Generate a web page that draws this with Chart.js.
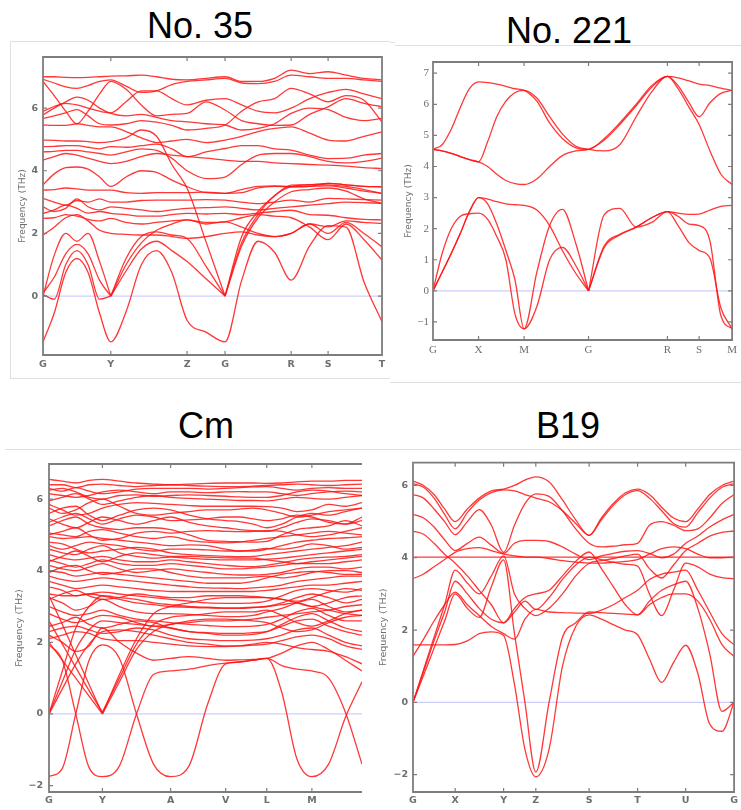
<!DOCTYPE html>
<html>
<head>
<meta charset="utf-8">
<script src="https://cdn.jsdelivr.net/npm/chart.js@4.4.1/dist/chart.umd.min.js"></script>
<style>
  body { margin: 0; width: 741px; height: 810px; background: #fff; position: relative; overflow: hidden; font-family: 'Liberation Sans', Arial, sans-serif; }
  .title { position: absolute; font-size: 36px; line-height: 1; color: #000; transform: translateX(-50%); white-space: nowrap; }
  .rule { position: absolute; background: #e0e0e0; }
  canvas { position: absolute; }
</style>
</head>
<body>
<div class="title" style="left:200px; top:8px;">No. 35</div>
<div class="title" style="left:569px; top:13px;">No. 221</div>
<div class="title" style="left:206px; top:408px;">Cm</div>
<div class="title" style="left:568px; top:408px;">B19</div>

<canvas id="no35" width="380" height="333" style="left:10px; top:45px;"></canvas>
<canvas id="no221" width="351" height="334" style="left:390px; top:48px;"></canvas>
<canvas id="cm" width="370" height="358" style="left:0px; top:452px;"></canvas>
<canvas id="b19" width="371" height="358" style="left:370px; top:452px;"></canvas>

<div class="rule" style="left:10px; top:41px; width:380px; height:1px;"></div>
<div class="rule" style="left:10px; top:41px; width:1px; height:337px;"></div>
<div class="rule" style="left:10px; top:378px; width:380px; height:1px;"></div>
<div class="rule" style="left:390px; top:42px; width:5px; height:1px;"></div>
<div class="rule" style="left:395px; top:45px; width:346px; height:1px;"></div>
<div class="rule" style="left:390px; top:382px; width:351px; height:1px;"></div>
<div class="rule" style="left:5px; top:449px; width:365px; height:1px;"></div>
<div class="rule" style="left:370px; top:449px; width:371px; height:1px;"></div>

<script>
(function(){
// ---- No. 35 ----
const no35Path = [0, 3.3, 6.7, 10, 13.3, 16.7, 20, 24.5, 29, 33.5, 38, 42.5, 48.1, 53.7, 58.6, 63.45, 68.3, 73.2, 78.65, 84.1, 89.4, 94.7, 100];
const no35Ticks = [0, 20, 42.5, 53.7, 73.2, 84.1, 100];
const no35Labels = ['G', 'Y', 'Z', 'G', 'R', 'S', 'T'];
const no35YTicks = [0, 2, 4, 6];
const no35Bands = [
  [-1.46, -0.55, 0.75, 1.2, 0.75, -0.55, -1.46, -0.5, 1.0, 1.45, 0.75, -0.77, -1.15, -1.46, 0.5, 1.75, 1.4, 0.51, 1.6, 2.25, 2.2, 0.45, -0.82],
  [0.05, -0.1, 1.0, 1.45, 1.0, -0.1, 0.0, 0.8, 1.5, 1.75, 1.45, 1.1, 0.55, 0.0, 1.9, 2.7, 3.2, 3.54, 3.56, 3.55, 3.5, 3.4, 3.28],
  [0.1, 0.6, 1.35, 1.65, 1.35, 0.5, 0.0, 1.2, 1.9, 2.05, 1.95, 1.84, 0.95, 0.0, 1.6, 2.5, 3.0, 3.33, 3.4, 3.45, 3.35, 3.1, 2.96],
  [0.0, 1.3, 2.0, 1.75, 2.0, 1.1, 0.0, 1.0, 1.7, 2.1, 2.3, 2.43, 2.35, 2.37, 2.5, 2.6, 2.55, 2.5, 2.2, 1.8, 2.3, 1.8, 1.15],
  [1.95, 2.2, 2.5, 2.6, 2.4, 2.1, 2.0, 1.97, 1.95, 1.95, 1.9, 1.84, 1.9, 2.0, 2.05, 1.95, 1.9, 2.0, 2.3, 2.0, 2.35, 2.0, 1.57],
  [4.98, 4.97, 4.95, 4.95, 4.93, 4.9, 4.93, 5.05, 5.3, 5.1, 4.2, 3.44, 1.73, 0.0, 1.7, 2.6, 3.2, 3.49, 3.55, 3.6, 3.55, 3.5, 3.49],
  [3.55, 3.9, 4.1, 4.12, 4.05, 3.8, 3.5, 3.8, 4.0, 3.95, 3.7, 3.49, 3.3, 3.28, 3.4, 3.5, 3.52, 3.49, 3.5, 3.6, 3.55, 3.5, 3.49],
  [3.38, 3.4, 3.45, 3.42, 3.38, 3.38, 3.38, 3.3, 3.28, 3.3, 3.3, 3.3, 3.32, 3.28, 3.3, 3.45, 3.5, 3.49, 3.5, 3.52, 3.45, 3.35, 3.28],
  [3.12, 3.0, 2.9, 3.05, 3.0, 3.1, 3.0, 3.0, 3.05, 3.06, 3.06, 3.06, 3.08, 3.06, 3.0, 2.95, 3.0, 3.06, 3.0, 3.12, 3.1, 3.08, 3.06],
  [2.85, 2.7, 2.8, 3.1, 2.85, 2.75, 2.85, 2.8, 2.75, 2.7, 2.75, 2.8, 2.82, 2.85, 2.8, 2.75, 2.8, 2.85, 2.9, 2.95, 3.0, 2.98, 2.96],
  [2.64, 2.75, 2.9, 2.8, 2.65, 2.7, 2.64, 2.6, 2.55, 2.55, 2.6, 2.64, 2.62, 2.64, 2.6, 2.65, 2.7, 2.74, 2.6, 2.58, 2.5, 2.45, 2.43],
  [2.48, 2.5, 2.6, 2.55, 2.45, 2.4, 2.48, 2.35, 2.3, 2.35, 2.4, 2.43, 2.3, 2.37, 2.2, 2.0, 1.9, 2.0, 2.3, 2.21, 2.4, 2.35, 2.32],
  [4.77, 4.78, 4.8, 4.8, 4.75, 4.7, 4.77, 4.75, 4.8, 4.85, 4.7, 4.45, 4.6, 4.71, 4.8, 4.8, 4.7, 4.66, 4.5, 4.39, 4.4, 4.5, 4.55],
  [4.34, 4.45, 4.55, 4.5, 4.4, 4.3, 4.23, 4.3, 4.45, 4.55, 4.5, 4.45, 4.4, 4.34, 4.3, 4.3, 4.25, 4.23, 4.2, 4.18, 4.15, 4.1, 4.07],
  [4.6, 4.62, 4.65, 4.65, 4.6, 4.55, 4.5, 4.6, 4.7, 4.65, 4.4, 4.0, 3.75, 3.8, 4.2, 4.5, 4.55, 4.55, 4.45, 4.3, 4.25, 4.3, 4.4],
  [7.0, 7.0, 6.98, 6.97, 6.98, 7.0, 7.02, 7.03, 7.05, 7.0, 6.92, 6.9, 6.95, 7.0, 6.85, 6.85, 6.95, 7.21, 7.1, 7.16, 7.05, 6.95, 6.9],
  [6.92, 6.8, 6.68, 6.63, 6.72, 6.85, 6.9, 6.7, 6.5, 6.55, 6.75, 6.85, 6.9, 6.95, 6.8, 6.78, 6.85, 7.05, 7.0, 6.95, 6.95, 6.9, 6.85],
  [6.85, 6.4, 5.9, 5.5, 5.9, 6.45, 6.85, 6.6, 6.1, 5.75, 5.8, 5.83, 6.2, 5.94, 5.6, 5.5, 5.45, 5.46, 5.8, 6.04, 6.3, 6.15, 6.04],
  [5.9, 6.05, 6.15, 6.1, 6.0, 5.9, 5.85, 6.2, 6.55, 6.55, 6.3, 6.1, 6.25, 6.3, 6.1, 5.9, 5.85, 6.0, 6.3, 6.5, 6.6, 6.45, 6.3],
  [5.78, 6.0, 6.2, 6.35, 6.25, 6.0, 5.83, 5.75, 5.8, 5.7, 5.6, 5.56, 5.5, 5.46, 5.3, 5.35, 5.5, 5.83, 6.0, 5.95, 5.7, 5.6, 5.67],
  [5.67, 5.75, 5.85, 5.95, 5.75, 5.5, 5.46, 5.5, 5.6, 5.55, 5.45, 5.3, 5.35, 5.46, 5.9, 6.2, 6.3, 6.63, 6.45, 6.2, 6.4, 6.25, 5.55],
  [5.46, 5.45, 5.45, 5.5, 5.45, 5.4, 5.4, 5.25, 5.05, 4.9, 4.95, 5.0, 4.9, 4.98, 5.1, 5.25, 5.35, 5.4, 5.2, 4.98, 4.95, 5.1, 5.24]
];

// ---- No. 221 ----
const no221Path = [0, 0.1, 0.2, 0.3, 0.4, 0.5, 0.6, 0.7, 0.8, 0.9, 1.0, 1.14, 1.28, 1.42, 1.57, 1.707, 1.88, 2.05, 2.23, 2.40, 2.573, 2.69, 2.81, 2.921, 3.04, 3.16, 3.283];
const no221Ticks = [0, 0.5, 1.0, 1.707, 2.573, 2.921, 3.283];
const no221Labels = ['G', 'X', 'M', 'G', 'R', 'S', 'M'];
const no221YTicks = [-1, 0, 1, 2, 3, 4, 5, 6, 7];
const no221Bands = [
  [0, 1.2, 2.0, 2.4, 2.48, 2.5, 2.3, 1.75, 1.0, -0.75, -1.22, -0.5, 1.0, 1.4, 0.8, 0, 1.4, 1.8, 2.05, 2.35, 2.55, 2.1, 1.55, 1.3, 1.05, -0.55, -1.22],
  [0, 0.6, 1.2, 1.85, 2.55, 3.0, 2.8, 2.15, 1.3, 0.35, -1.22, 0.6, 2.1, 2.62, 1.5, 0, 2.45, 2.65, 2.05, 2.2, 2.55, 2.4, 2.15, 2.1, 1.6, -0.8, -1.22],
  [0, 0.6, 1.2, 1.85, 2.55, 3.0, 2.95, 2.87, 2.8, 2.77, 2.75, 2.6, 2.1, 1.3, 0.55, 0, 1.45, 1.82, 2.05, 2.35, 2.55, 2.5, 2.46, 2.47, 2.6, 2.72, 2.75],
  [4.55, 4.7, 5.2, 5.9, 6.5, 6.72, 6.7, 6.65, 6.58, 6.5, 6.45, 6.1, 5.4, 4.9, 4.6, 4.55, 4.9, 5.4, 6.0, 6.6, 6.9, 6.85, 6.75, 6.65, 6.6, 6.52, 6.45],
  [4.55, 4.5, 4.42, 4.32, 4.22, 4.15, 4.8, 5.6, 6.1, 6.38, 6.45, 6.2, 5.6, 5.05, 4.65, 4.55, 4.5, 4.7, 5.6, 6.4, 6.9, 6.6, 6.05, 5.6, 6.05, 6.35, 6.45],
  [4.55, 4.5, 4.42, 4.32, 4.22, 4.15, 4.0, 3.75, 3.55, 3.45, 3.42, 3.6, 4.0, 4.35, 4.5, 4.55, 4.85, 5.35, 5.95, 6.55, 6.9, 6.5, 5.9, 5.35, 4.5, 3.75, 3.42]
];

// ---- Cm ----
const cmPath = [0, 0.133, 0.267, 0.4, 0.533, 0.703, 0.873, 1.043, 1.213, 1.397, 1.58, 1.763, 1.9, 2.037, 2.173, 2.323, 2.473, 2.623, 2.79, 2.957, 3.123];
const cmTicks = [0, 0.533, 1.213, 1.763, 2.173, 2.623];
const cmLabels = ['G', 'Y', 'A', 'V', 'L', 'M'];
const cmYTicks = [-2, 0, 2, 4, 6];
const cmBands = [
  [-1.75, -1.52, 0, 1.5, 1.93, 1.55, 0, -1.4, -1.75, -1.45, 0.25, 1.4, 1.45, 1.5, 1.55, 0.6, -1.25, -1.75, -1.4, -0.1, 0.9],
  [1.93, 1.5, 0, -1.5, -1.75, -1.45, 0, 1.1, 1.2, 1.25, 1.35, 1.42, 1.45, 1.5, 1.55, 1.35, 1.25, 1.2, 1.0, 0.05, -1.4],
  [0, 1.2, 2.4, 3.0, 3.3, 3.25, 3.2, 3.1, 3.05, 3.0, 2.98, 2.96, 2.96, 2.98, 3.0, 3.05, 3.1, 3.0, 2.9, 2.8, 2.75],
  [0, 0.9, 1.8, 2.35, 2.6, 2.55, 2.5, 2.45, 2.4, 2.3, 2.25, 2.2, 2.2, 2.22, 2.3, 2.5, 2.7, 2.8, 2.6, 2.4, 2.3],
  [0, 0.7, 1.4, 1.95, 2.3, 2.35, 2.3, 2.2, 2.1, 2.0, 1.95, 1.9, 1.9, 1.92, 1.95, 2.05, 2.15, 2.2, 2.1, 1.9, 1.8],
  [2.0, 1.5, 1.0, 0.5, 0.0, 0.9, 1.8, 2.3, 2.5, 2.55, 2.6, 2.6, 2.62, 2.65, 2.7, 2.75, 2.8, 2.85, 2.9, 3.0, 3.05],
  [3.3, 2.5, 1.65, 0.82, 0.0, 1.1, 2.1, 2.8, 3.0, 3.1, 3.2, 3.25, 3.25, 3.25, 3.25, 3.2, 3.1, 3.0, 3.1, 3.25, 3.3],
  [2.6, 1.95, 1.3, 0.65, 0.05, 1.0, 1.95, 2.5, 2.7, 2.75, 2.8, 2.85, 2.85, 2.85, 2.9, 2.75, 2.55, 2.45, 2.6, 2.8, 2.9],
  [6.55, 6.5, 6.45, 6.52, 6.55, 6.5, 6.45, 6.42, 6.4, 6.42, 6.44, 6.45, 6.45, 6.45, 6.44, 6.45, 6.48, 6.5, 6.5, 6.52, 6.52],
  [6.4, 6.4, 6.32, 6.4, 6.42, 6.38, 6.35, 6.38, 6.4, 6.38, 6.36, 6.35, 6.35, 6.36, 6.38, 6.4, 6.42, 6.4, 6.38, 6.4, 6.42],
  [6.3, 6.22, 6.32, 6.22, 6.15, 6.2, 6.28, 6.3, 6.3, 6.3, 6.28, 6.3, 6.32, 6.34, 6.35, 6.3, 6.25, 6.3, 6.32, 6.3, 6.3],
  [6.25, 6.3, 6.2, 6.05, 6.0, 6.1, 6.12, 6.08, 6.1, 6.12, 6.1, 6.08, 6.06, 6.05, 6.05, 6.1, 6.2, 6.25, 6.22, 6.15, 6.1],
  [6.15, 6.1, 6.05, 6.1, 6.2, 6.25, 6.2, 6.15, 6.2, 6.2, 6.18, 6.2, 6.21, 6.2, 6.2, 6.15, 6.1, 6.15, 6.2, 6.22, 6.2],
  [5.95, 6.05, 6.15, 6.0, 5.85, 5.95, 6.05, 6.1, 6.05, 6.02, 6.0, 5.98, 5.96, 5.96, 5.95, 6.0, 6.05, 6.02, 6.0, 6.05, 6.1],
  [5.75, 5.6, 5.7, 5.9, 6.0, 5.8, 5.6, 5.55, 5.6, 5.65, 5.7, 5.7, 5.72, 5.75, 5.7, 5.6, 5.5, 5.55, 5.65, 5.7, 5.75],
  [5.85, 5.7, 5.55, 5.6, 5.75, 5.85, 5.9, 5.88, 5.85, 5.82, 5.8, 5.8, 5.8, 5.8, 5.79, 5.75, 5.65, 5.7, 5.85, 5.8, 5.9],
  [5.6, 5.75, 5.8, 5.55, 5.4, 5.55, 5.7, 5.75, 5.7, 5.55, 5.45, 5.4, 5.37, 5.3, 5.2, 5.3, 5.5, 5.6, 5.55, 5.65, 5.75],
  [5.35, 5.5, 5.6, 5.45, 5.3, 5.45, 5.55, 5.5, 5.4, 5.42, 5.45, 5.5, 5.5, 5.45, 5.4, 5.45, 5.55, 5.5, 5.35, 5.3, 5.4],
  [5.45, 5.3, 5.2, 5.35, 5.5, 5.4, 5.3, 5.4, 5.5, 5.35, 5.25, 5.2, 5.15, 5.12, 5.1, 5.2, 5.35, 5.45, 5.4, 5.3, 5.5],
  [5.25, 5.4, 5.5, 5.3, 5.2, 5.15, 5.2, 5.2, 5.15, 5.0, 4.85, 4.82, 4.81, 4.8, 4.82, 5.0, 5.15, 5.2, 5.25, 5.4, 5.25],
  [5.0, 5.1, 5.2, 5.0, 4.85, 4.9, 5.05, 5.1, 5.05, 5.1, 5.12, 5.1, 5.09, 5.1, 5.12, 5.1, 5.0, 4.95, 5.0, 5.1, 5.2],
  [5.05, 5.0, 4.95, 5.1, 5.15, 5.05, 4.95, 4.9, 4.95, 4.85, 4.8, 4.78, 4.8, 4.85, 4.9, 4.95, 5.0, 5.05, 5.1, 5.05, 5.0],
  [4.95, 4.9, 4.92, 4.95, 4.9, 4.85, 4.8, 4.75, 4.7, 4.72, 4.7, 4.6, 4.55, 4.55, 4.6, 4.7, 4.8, 4.85, 4.9, 4.92, 4.95],
  [4.8, 4.75, 4.6, 4.5, 4.55, 4.6, 4.65, 4.6, 4.5, 4.45, 4.42, 4.4, 4.39, 4.4, 4.45, 4.5, 4.55, 4.6, 4.65, 4.7, 4.8],
  [4.7, 4.6, 4.7, 4.8, 4.75, 4.7, 4.6, 4.55, 4.6, 4.6, 4.58, 4.55, 4.55, 4.58, 4.62, 4.6, 4.65, 4.75, 4.7, 4.6, 4.65],
  [4.25, 4.4, 4.55, 4.4, 4.25, 4.4, 4.5, 4.45, 4.4, 4.4, 4.38, 4.36, 4.35, 4.35, 4.3, 4.25, 4.2, 4.25, 4.3, 4.35, 4.4],
  [4.6, 4.5, 4.45, 4.6, 4.7, 4.5, 4.4, 4.35, 4.38, 4.35, 4.32, 4.3, 4.3, 4.3, 4.32, 4.35, 4.4, 4.45, 4.5, 4.55, 4.6],
  [4.45, 4.35, 4.3, 4.35, 4.4, 4.3, 4.25, 4.25, 4.3, 4.25, 4.2, 4.15, 4.12, 4.11, 4.15, 4.22, 4.3, 4.35, 4.38, 4.4, 4.45],
  [4.3, 4.2, 4.1, 4.2, 4.3, 4.2, 4.15, 4.15, 4.2, 4.15, 4.1, 4.05, 4.05, 4.08, 4.1, 4.15, 4.2, 4.2, 4.2, 4.25, 4.3],
  [4.15, 4.05, 4.0, 4.1, 4.2, 4.05, 3.95, 4.0, 4.05, 4.0, 3.95, 3.9, 3.88, 3.88, 3.9, 3.95, 4.05, 4.1, 4.1, 4.05, 4.1],
  [3.95, 4.1, 4.15, 4.0, 3.9, 3.95, 4.05, 4.05, 3.95, 3.85, 3.8, 3.8, 3.8, 3.82, 3.85, 3.8, 3.85, 3.95, 4.0, 4.0, 3.95],
  [4.0, 3.95, 3.85, 3.9, 3.95, 3.9, 3.85, 3.8, 3.75, 3.7, 3.65, 3.65, 3.65, 3.7, 3.8, 3.9, 3.95, 3.98, 3.95, 3.9, 3.9],
  [3.85, 3.75, 3.7, 3.75, 3.8, 3.75, 3.7, 3.65, 3.6, 3.55, 3.52, 3.51, 3.5, 3.52, 3.55, 3.6, 3.7, 3.75, 3.8, 3.85, 3.85],
  [3.7, 3.6, 3.5, 3.55, 3.6, 3.55, 3.5, 3.45, 3.42, 3.42, 3.42, 3.42, 3.42, 3.42, 3.45, 3.5, 3.55, 3.6, 3.6, 3.65, 3.7],
  [3.55, 3.45, 3.3, 3.35, 3.4, 3.35, 3.3, 3.25, 3.2, 3.15, 3.1, 3.09, 3.09, 3.1, 3.15, 3.3, 3.45, 3.5, 3.45, 3.4, 3.5],
  [3.2, 3.35, 3.45, 3.3, 3.2, 3.25, 3.35, 3.3, 3.25, 3.25, 3.3, 3.3, 3.3, 3.28, 3.25, 3.2, 3.15, 3.25, 3.4, 3.5, 3.45],
  [3.35, 3.3, 3.3, 3.35, 3.3, 3.2, 3.1, 3.05, 3.0, 2.98, 2.96, 2.95, 2.95, 2.97, 3.0, 3.1, 3.25, 3.35, 3.25, 3.1, 3.2],
  [3.25, 3.1, 2.9, 3.0, 3.2, 3.0, 2.85, 2.8, 2.8, 2.78, 2.75, 2.72, 2.72, 2.75, 2.85, 2.95, 3.1, 3.2, 3.0, 2.85, 2.9],
  [3.0, 2.85, 2.75, 2.8, 2.9, 2.75, 2.65, 2.6, 2.55, 2.5, 2.47, 2.44, 2.44, 2.45, 2.5, 2.65, 2.85, 2.95, 2.75, 2.6, 2.6],
  [2.8, 2.65, 2.55, 2.65, 2.75, 2.7, 2.55, 2.45, 2.5, 2.6, 2.65, 2.65, 2.63, 2.6, 2.55, 2.4, 2.3, 2.35, 2.55, 2.7, 2.75],
  [2.45, 2.55, 2.7, 2.5, 2.4, 2.5, 2.6, 2.55, 2.4, 2.3, 2.27, 2.25, 2.25, 2.27, 2.3, 2.45, 2.6, 2.65, 2.45, 2.3, 2.2],
  [2.3, 2.4, 2.45, 2.35, 2.25, 2.3, 2.4, 2.35, 2.2, 2.1, 2.07, 2.05, 2.05, 2.06, 2.1, 2.2, 2.35, 2.4, 2.2, 2.0, 1.9],
  [2.1, 2.2, 2.3, 2.25, 2.1, 2.05, 2.05, 2.0, 1.95, 1.9, 1.88, 1.88, 1.9, 1.95, 2.0, 1.95, 1.85, 1.8, 1.75, 1.6, 1.4],
  [2.2, 2.0, 1.75, 1.9, 2.4, 2.0, 1.7, 1.5, 1.55, 1.6, 1.55, 1.5, 1.51, 1.52, 1.55, 1.7, 1.9, 2.0, 1.8, 1.5, 1.2]
];

// ---- B19 ----
const b19Path = [0, 0.107, 0.213, 0.32, 0.427, 0.55, 0.67, 0.793, 0.917, 1.027, 1.133, 1.243, 1.377, 1.513, 1.647, 1.783, 1.907, 2.027, 2.15, 2.273, 2.393, 2.517, 2.637, 2.76, 2.883, 3.003, 3.127, 3.25];
const b19Ticks = [0, 0.427, 0.917, 1.243, 1.783, 2.273, 2.76, 3.25];
const b19Labels = ['G', 'X', 'Y', 'Z', 'S', 'T', 'U', 'G'];
const b19YTicks = [-2, 0, 2, 4, 6];
const b19Bands = [
  [6.12, 6.0, 5.75, 5.35, 5.0, 5.35, 5.65, 5.85, 5.9, 6.0, 6.15, 6.24, 6.1, 5.6, 5.05, 4.62, 5.1, 5.5, 5.8, 5.9, 5.75, 5.4, 5.1, 5.0, 5.35, 5.75, 6.0, 6.12],
  [6.05, 5.95, 5.65, 5.2, 4.8, 5.25, 5.6, 5.8, 5.88, 5.85, 5.75, 5.65, 5.55, 5.3, 4.95, 4.62, 5.05, 5.45, 5.75, 5.86, 5.65, 5.3, 4.95, 4.85, 5.25, 5.65, 5.95, 6.05],
  [5.75, 5.65, 5.35, 5.0, 4.64, 5.0, 5.33, 4.9, 4.15, 4.9, 5.5, 5.77, 5.7, 5.3, 4.8, 4.4, 4.3, 4.32, 4.36, 4.4, 4.9, 5.0, 4.9, 4.75, 4.8, 5.1, 5.5, 5.75],
  [5.2, 5.1, 4.85, 4.5, 4.2, 4.4, 4.57, 4.35, 4.12, 4.4, 4.48, 4.48, 4.45, 4.3, 4.1, 3.95, 4.05, 4.12, 4.18, 4.2, 4.12, 4.0, 4.1, 4.4, 4.6, 4.85, 5.05, 5.2],
  [4.02, 4.02, 4.02, 4.02, 4.02, 4.02, 4.02, 4.02, 4.02, 4.02, 4.02, 4.02, 4.02, 4.02, 4.02, 4.02, 4.02, 4.02, 4.02, 4.02, 4.02, 4.02, 4.02, 4.02, 4.02, 4.02, 4.02, 4.02],
  [4.74, 4.65, 4.4, 4.1, 3.85, 3.5, 3.1, 2.7, 2.2, 2.5, 2.8, 2.57, 2.9, 3.4, 3.8, 4.02, 3.95, 3.88, 3.82, 3.77, 3.0, 2.4, 3.1, 3.85, 3.75, 3.55, 3.45, 3.42],
  [1.59, 1.59, 1.59, 1.59, 1.6, 1.7, 1.9, 1.95, 1.85, 0.5, -1.3, -2.06, -1.3, 1.0, 2.1, 2.42, 2.3, 2.15, 2.0, 1.87, 1.2, 0.55, 1.1, 1.58, 0.8, -0.6, -0.8, 0],
  [0, 0.75, 1.5, 2.25, 3.0, 2.6, 2.35, 3.2, 3.94, 1.9, 0, -1.93, 0, 1.8, 2.2, 2.5, 2.48, 2.46, 2.44, 2.42, 2.7, 2.9, 3.0, 3.0, 2.8, 2.3, 1.6, 1.27],
  [0, 0.85, 1.7, 2.5, 3.35, 3.0, 2.6, 2.3, 2.2, 2.6, 2.9, 3.0, 3.1, 3.5, 3.9, 4.16, 3.7, 3.2, 2.7, 2.42, 2.8, 3.1, 3.25, 3.35, 2.6, 1.35, -0.25, 0],
  [0, 0.9, 1.8, 2.7, 3.66, 3.3, 3.0, 3.5, 4.05, 3.0, 2.6, 2.4, 2.6, 3.0, 3.5, 3.85, 3.92, 3.98, 4.05, 4.1, 3.7, 3.44, 3.8, 4.2, 4.4, 4.6, 4.7, 4.74],
  [1.27, 1.75, 2.25, 2.7, 3.05, 2.7, 2.4, 2.1, 1.9, 1.75, 2.3, 2.57, 2.5, 2.48, 2.47, 2.46, 2.55, 2.7, 2.9, 3.1, 3.4, 3.55, 3.6, 3.66, 3.1, 2.5, 1.9, 1.59],
  [3.42, 3.55, 3.75, 3.95, 4.15, 4.25, 4.28, 4.2, 4.1, 4.05, 4.02, 4.02, 3.98, 3.92, 3.88, 3.85, 3.85, 3.87, 3.9, 3.95, 4.1, 4.25, 4.3, 4.25, 4.1, 4.0, 4.0, 4.02]
];

const RED = 'rgba(255, 20, 20, 0.85)';
const ZERO_LINE = 'rgba(175, 175, 255, 0.6)';
const FRAME = '#7d7d7d';

// acoustic branches touch zero with a kink, so cut the band there
function splitBand(xs, ys, ticks) {
  const parts = [];
  let cur = [];
  for (let i = 0; i < xs.length; i++) {
    cur.push({x: xs[i], y: ys[i]});
    if (i > 0 && i < xs.length - 1 && ticks.includes(xs[i]) && Math.abs(ys[i]) < 0.1) {
      parts.push(cur);
      cur = [{x: xs[i], y: ys[i]}];
    }
  }
  parts.push(cur);
  return parts;
}

const framePlugin = {
  id: 'frame',
  afterDatasetsDraw(chart, args, opts) {
    const {ctx, chartArea: a, scales} = chart;
    ctx.save();
    ctx.strokeStyle = FRAME;
    ctx.lineWidth = 1.8;
    ctx.beginPath();
    if (opts.right) {
      ctx.rect(a.left, a.top, a.right - a.left, a.bottom - a.top);
    } else {
      ctx.moveTo(a.right, a.top);
      ctx.lineTo(a.left, a.top);
      ctx.lineTo(a.left, a.bottom);
      ctx.lineTo(a.right, a.bottom);
    }
    ctx.stroke();
    ctx.lineWidth = 1.2;
    ctx.beginPath();
    scales.x.ticks.forEach(t => {
      const px = scales.x.getPixelForValue(t.value);
      if (px <= a.left + 1 || px >= a.right - 1) return;
      ctx.moveTo(px, a.bottom); ctx.lineTo(px, a.bottom - 4);
      ctx.moveTo(px, a.top); ctx.lineTo(px, a.top + 4);
    });
    scales.y.ticks.forEach(t => {
      const py = scales.y.getPixelForValue(t.value);
      ctx.moveTo(a.left, py); ctx.lineTo(a.left + 4, py);
      if (opts.right) { ctx.moveTo(a.right, py); ctx.lineTo(a.right - 4, py); }
    });
    ctx.stroke();
    ctx.restore();
  }
};

function drawPanel(id, p) {
  const datasets = [];
  p.bands.forEach(band => {
    splitBand(p.path, band, p.ticks).forEach(part => {
      datasets.push({
        data: part,
        borderColor: RED,
        borderWidth: 1.3,
        pointRadius: 0,
        fill: false,
        cubicInterpolationMode: 'monotone'
      });
    });
  });
  datasets.push({
    data: [{x: p.path[0], y: 0}, {x: p.path[p.path.length - 1], y: 0}],
    borderColor: ZERO_LINE,
    borderWidth: 1.3,
    pointRadius: 0,
    tension: 0
  });

  const tickFont = p.serif
    ? {family: 'Liberation Serif', size: 11}
    : {family: 'DejaVu Sans', size: 9.5, weight: 'bold'};

  new Chart(document.getElementById(id), {
    type: 'line',
    data: {datasets: datasets},
    plugins: [framePlugin],
    options: {
      responsive: false,
      animation: false,
      events: [],
      layout: {padding: {top: p.padTop, right: p.padRight, left: 0, bottom: 0}},
      plugins: {legend: {display: false}, tooltip: {enabled: false}, frame: {right: p.rightEdge}},
      scales: {
        x: {
          type: 'linear',
          min: p.path[0],
          max: p.path[p.path.length - 1],
          afterBuildTicks: (s) => { s.ticks = p.ticks.map(v => ({value: v})); },
          afterFit: (s) => { s.height = p.xHeight; },
          grid: {display: false, drawTicks: false},
          border: {display: false},
          ticks: {
            autoSkip: false,
            maxRotation: 0,
            padding: p.xPad,
            color: '#6e6e6e',
            font: tickFont,
            callback: (v, i) => p.labels[i]
          }
        },
        y: {
          type: 'linear',
          min: p.yMin,
          max: p.yMax,
          afterBuildTicks: (s) => { s.ticks = p.yTicks.map(v => ({value: v})); },
          afterFit: (s) => { s.width = p.yWidth; },
          grid: {display: false, drawTicks: false},
          border: {display: false},
          ticks: {
            padding: p.yPad,
            color: '#6e6e6e',
            font: tickFont,
            callback: (v) => String(v).replace('-', '\u2212')
          },
          title: {
            display: true,
            text: 'Frequency (THz)',
            color: '#6e6e6e',
            font: {family: 'DejaVu Sans', size: p.titleSize},
            padding: {top: p.titlePad, bottom: 0}
          }
        }
      }
    }
  });
}

drawPanel('no35', {
  path: no35Path, ticks: no35Ticks, labels: no35Labels, yTicks: no35YTicks, bands: no35Bands,
  yMin: -1.88, yMax: 7.63, yWidth: 33, xHeight: 23, padTop: 12, padRight: 8,
  xPad: 4, yPad: 5, titleSize: 9, titlePad: 7, rightEdge: true
});
drawPanel('no221', {
  path: no221Path, ticks: no221Ticks, labels: no221Labels, yTicks: no221YTicks, bands: no221Bands,
  yMin: -1.58, yMax: 7.36, yWidth: 43, xHeight: 42, padTop: 14, padRight: 6,
  xPad: 4, yPad: 4, titleSize: 9, titlePad: 13, rightEdge: true, serif: true
});
drawPanel('cm', {
  path: cmPath, ticks: cmTicks, labels: cmLabels, yTicks: cmYTicks, bands: cmBands,
  yMin: -2.18, yMax: 6.98, yWidth: 49, xHeight: 18, padTop: 12, padRight: 8,
  xPad: 3, yPad: 6, titleSize: 9.5, titlePad: 14, rightEdge: false
});
drawPanel('b19', {
  path: b19Path, ticks: b19Ticks, labels: b19Labels, yTicks: b19YTicks, bands: b19Bands,
  yMin: -2.48, yMax: 6.63, yWidth: 43, xHeight: 18, padTop: 6, padRight: 3,
  xPad: 3, yPad: 5, titleSize: 9.5, titlePad: 7.5, rightEdge: true
});
}());
</script>
</body>
</html>
